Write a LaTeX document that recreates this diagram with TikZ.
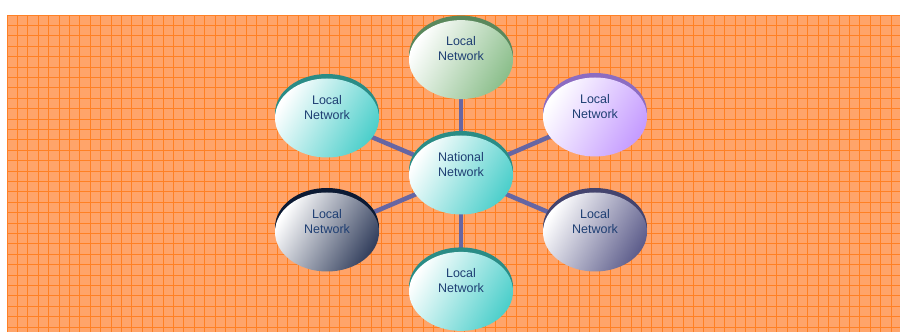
\documentclass[tikz,border=0pt]{standalone}
\usepackage{fontspec}
\setmainfont{Liberation Sans}
\usetikzlibrary{positioning,shapes.geometric,shadows}
\usepackage{xcolor}

\definecolor{bgorange}{HTML}{FFA46A}
\definecolor{gridorange}{HTML}{FF8024}
\definecolor{linkblue}{HTML}{6666A3}
\definecolor{nettext}{HTML}{1F3F73}
\definecolor{tealfill}{HTML}{4DCFCB}
\definecolor{tealrim}{HTML}{2A8C86}
\definecolor{greenfill}{HTML}{8CBF8C}
\definecolor{greenrim}{HTML}{5A885C}
\definecolor{purplefill}{HTML}{C59CFF}
\definecolor{purplerim}{HTML}{8C6CC2}
\definecolor{navyfill}{HTML}{34405E}
\definecolor{navyrim}{HTML}{0C1A33}
\definecolor{slatefill}{HTML}{5E5E8C}
\definecolor{slaterim}{HTML}{44446E}

\pgfdeclarelayer{backdrop}
\pgfdeclarelayer{links}
\pgfsetlayers{backdrop,links,main}

\begin{document}
\begin{tikzpicture} [x=1pt, y=1pt,
            net/.style={ellipse, minimum width=104pt, minimum height=79pt, inner sep=0pt,
                align=center, text=nettext, text depth=22pt, font=\fontsize{12.5}{15}\selectfont},
            netshade/.style 2 args={net, top color=white, middle color=white!93!#1, bottom color=#1,
                shading angle=60, general shadow={fill=#2, shadow yshift=4.5pt}},
            link/.style={draw=linkblue, line width=4.5pt},]
        \useasboundingbox (0,0) rectangle (900,332);
        \begin{pgfonlayer}{backdrop}
            \fill[bgorange] (7,0) rectangle (900,317);
            \foreach \gx in {0,...,85}
                \draw[gridorange, line width=0.9pt] (7+\gx*10.4,0) -- (7+\gx*10.4,317);
            \foreach \gy in {0,...,30}
                \draw[gridorange, line width=0.9pt] (7,317-\gy*10.4) -- (900,317-\gy*10.4);
        \end{pgfonlayer}
        % hub and the six local networks
        \node[netshade={tealfill}{tealrim}](nat) at (461,157){National\\Network};
        \node[netshade={greenfill}{greenrim}](top)[above=36pt of nat]{Local\\Network};
        \node[netshade={tealfill}{tealrim}](bot)[below=37pt of nat]{Local\\Network};
        \node[netshade={tealfill}{tealrim}](ul) at (327,214){Local\\Network};
        \node[netshade={purplefill}{purplerim}](ur) at (595,215){Local\\Network};
        \node[netshade={navyfill}{navyrim}](ll) at (327,100){Local\\Network};
        \node[netshade={slatefill}{slaterim}](lr) at (595,100){Local\\Network};
        \begin{pgfonlayer}{links}
            \draw[link] (nat.center) -- (top.center);
            \draw[link] (nat.center) -- (bot.center);
            \draw[link] (nat.center) -- (ul.center);
            \draw[link] (nat.center) -- (ur.center);
            \draw[link] (nat.center) -- (ll.center);
            \draw[link] (nat.center) -- (lr.center);
        \end{pgfonlayer}
    \end{tikzpicture}
\end{document}
